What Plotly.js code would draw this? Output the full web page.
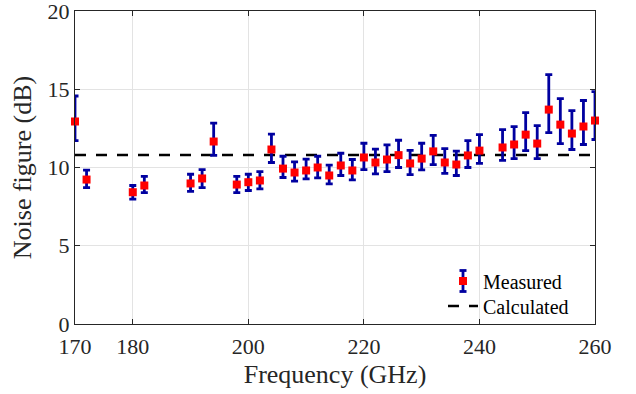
<!DOCTYPE html>
<html>
<head>
<meta charset="utf-8">
<script src="https://cdn.plot.ly/plotly-3.0.1.min.js"></script>
<style>html,body{margin:0;padding:0;background:#fff;}#chart{width:636px;height:394px;}</style>
</head>
<body>
<div id="chart"></div>
<script>
var freq = [170,172,180,182,190,192,194,198,200,202,204,206,208,210,212,214,216,218,220,222,224,226,228,230,232,234,236,238,240,244,246,248,250,252,254,256,258,260];
var measured = [12.94,9.23,8.42,8.85,8.98,9.30,11.66,8.91,9.06,9.17,11.15,9.93,9.68,9.81,10.0,9.49,10.13,9.81,10.64,10.32,10.51,10.79,10.26,10.57,11.03,10.32,10.19,10.77,11.08,11.28,11.47,12.10,11.53,13.70,12.74,12.17,12.62,13.00];
var upper = [14.57,9.83,8.85,9.43,9.57,9.87,12.83,9.43,9.57,9.74,12.13,10.72,10.36,10.53,10.72,10.15,10.91,10.51,11.55,11.17,11.44,11.74,11.10,11.55,12.05,11.21,11.04,11.72,12.10,12.42,12.61,13.51,12.68,15.93,14.40,13.64,14.28,14.85];
var lower = [11.72,8.72,7.98,8.40,8.47,8.72,10.77,8.40,8.53,8.64,10.32,9.36,9.13,9.27,9.34,8.95,9.49,9.21,9.87,9.59,9.74,10.0,9.55,9.85,10.19,9.62,9.49,10.0,10.26,10.45,10.57,11.08,10.57,12.23,11.53,11.15,11.47,11.79];
var calcFreq = [170,260];
var calculated = [10.8,10.8];
var xTicks = [170,180,200,220,240,260];
var yTicks = [0,5,10,15,20];

var errPlus = upper.map(function(u,i){return u - measured[i];});
var errMinus = lower.map(function(l,i){return measured[i] - l;});

var axisColor = '#262626';
var barColor = '#0000a0';
var fontFam = '"Liberation Serif", "Times New Roman", serif';

var W = 636, H = 394, mL = 75, mR = 41, mT = 11, mB = 70;
var pw = W - mL - mR, ph = H - mT - mB;
function px2x(p){ return (p - mL) / pw; }
function py2y(p){ return (H - mB - p) / ph; }

var legLeftPx = 443;
var measCenterPx = 281, calcCenterPx = 306;

var traces = [
  {
    x: calcFreq, y: calculated, mode: 'lines', name: 'Calculated', legend: 'legend2',
    line: {color: '#000000', width: 2.5, dash: '11px,10px'},
    cliponaxis: false
  },
  {
    x: freq, y: measured, mode: 'markers', name: 'Measured', legend: 'legend',
    marker: {symbol: 'square', color: '#ff0000', size: 8},
    error_y: {type: 'data', symmetric: false, array: errPlus, arrayminus: errMinus,
              color: barColor, thickness: 2.8, width: 3.5},
    cliponaxis: false
  }
];

// legend glyph for the error bar (decoration of the legend key)
var gx = px2x(legLeftPx + 20), gTop = py2y(measCenterPx - 10.5), gBot = py2y(measCenterPx + 10.5);
var capHalf = 3.5 / pw;
var legendGlyph = [
  {type: 'line', xref: 'paper', yref: 'paper', x0: gx, x1: gx, y0: gBot, y1: gTop, line: {color: barColor, width: 2.8}},
  {type: 'line', xref: 'paper', yref: 'paper', x0: gx - capHalf, x1: gx + capHalf, y0: gTop, y1: gTop, line: {color: barColor, width: 2.8}},
  {type: 'line', xref: 'paper', yref: 'paper', x0: gx - capHalf, x1: gx + capHalf, y0: gBot, y1: gBot, line: {color: barColor, width: 2.8}}
];

var legFont = {size: 20, family: fontFam, color: '#000'};
var layout = {
  width: W, height: H,
  margin: {l: mL, r: mR, t: mT, b: mB},
  paper_bgcolor: '#ffffff', plot_bgcolor: '#ffffff',
  font: {family: fontFam, color: axisColor},
  showlegend: true,
  legend: {x: px2x(legLeftPx), y: py2y(measCenterPx), xanchor: 'left', yanchor: 'middle',
           bgcolor: 'rgba(0,0,0,0)', font: legFont},
  legend2: {x: px2x(legLeftPx), y: py2y(calcCenterPx), xanchor: 'left', yanchor: 'middle',
           bgcolor: 'rgba(0,0,0,0)', font: legFont},
  shapes: legendGlyph,
  xaxis: {
    range: [170, 260], tickvals: xTicks, ticktext: xTicks.map(String),
    ticks: 'inside', ticklen: 5, tickcolor: axisColor, mirror: 'ticks',
    showline: true, linecolor: axisColor, linewidth: 1,
    showgrid: true, gridcolor: '#e3e3e3', gridwidth: 1, zeroline: false,
    ticklabelstandoff: 3, ticklabeloverflow: 'allow',
    tickfont: {size: 22, family: fontFam, color: axisColor},
    title: {text: 'Frequency (GHz)', font: {size: 26, family: fontFam, color: axisColor}, standoff: 6}
  },
  yaxis: {
    range: [0, 20], tickvals: yTicks, ticktext: yTicks.map(String),
    ticks: 'inside', ticklen: 5, tickcolor: axisColor, mirror: 'ticks',
    showline: true, linecolor: axisColor, linewidth: 1,
    showgrid: true, gridcolor: '#e3e3e3', gridwidth: 1, zeroline: false,
    ticklabeloverflow: 'allow',
    tickfont: {size: 22, family: fontFam, color: axisColor},
    title: {text: 'Noise figure (dB)', font: {size: 26, family: fontFam, color: axisColor}, standoff: 8}
  }
};

Plotly.newPlot('chart', traces, layout, {displayModeBar: false, staticPlot: true});
</script>
</body>
</html>
